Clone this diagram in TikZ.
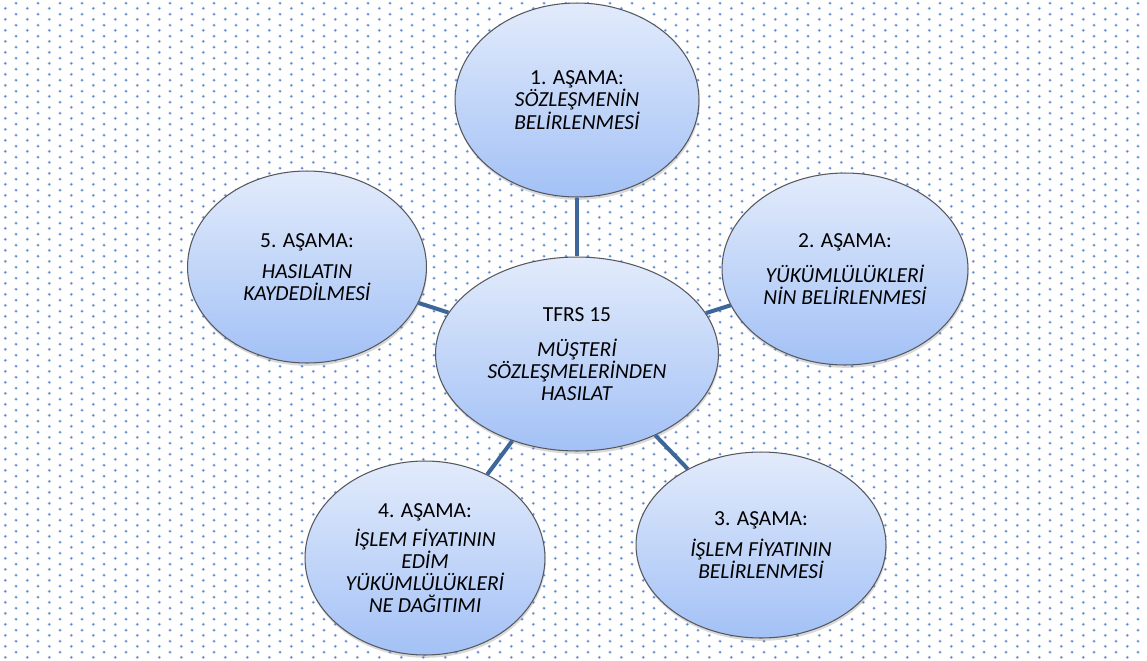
\documentclass[tikz,border=0pt]{standalone}
\usepackage{fontspec}
\setmainfont{Carlito}
\usetikzlibrary{shapes.geometric,shadows,patterns}
\definecolor{dotc}{RGB}{88,132,204}
\definecolor{dothalo}{RGB}{200,216,242}
\definecolor{ellTop}{RGB}{226,235,251}
\definecolor{ellBot}{RGB}{163,193,246}
\definecolor{ellLine}{RGB}{85,88,95}
\definecolor{conn}{RGB}{61,103,152}
\pgfdeclarepatterninherentlycolored{bgdots}
  {\pgfpointorigin}{\pgfpoint{0.434cm}{0.214cm}}
  {\pgfpoint{0.434cm}{0.214cm}}
  {%
    \pgfsetfillcolor{dothalo}%
    \pgfpathcircle{\pgfpoint{0.108cm}{0.054cm}}{0.038cm}%
    \pgfpathcircle{\pgfpoint{0.325cm}{0.161cm}}{0.038cm}%
    \pgfusepath{fill}%
    \pgfsetfillcolor{dotc}%
    \pgfpathcircle{\pgfpoint{0.108cm}{0.054cm}}{0.022cm}%
    \pgfpathcircle{\pgfpoint{0.325cm}{0.161cm}}{0.022cm}%
    \pgfusepath{fill}%
  }
\tikzset{
  stage/.style={ellipse, draw=ellLine, line width=0.6pt, top color=ellTop, bottom color=ellBot,
    inner sep=0pt, align=center, font=\fontsize{12.2}{12.6}\selectfont,
    drop shadow={opacity=0.3, shadow xshift=0.4pt, shadow yshift=-1.6pt}},
  link/.style={draw=conn, line width=2.3pt}
}
\begin{document}
\begin{tikzpicture}[x=0.02cm, y=-0.02cm]
\useasboundingbox (0,0) rectangle (1147,660);
\fill[white] (0,0) rectangle (1147,660);
\fill[pattern=bgdots] (0,0) rectangle (1147,660);
\node[stage, minimum width=5.66cm, minimum height=3.88cm] (c) at (577,354)
  {TFRS 15\\[0.26cm] \textit{MÜŞTERİ}\\ \textit{SÖZLEŞMELERİNDEN}\\ \textit{HASILAT}};
\node[stage, minimum width=4.88cm, minimum height=3.88cm] (s1) at (577,100)
  {1. AŞAMA:\\ \textit{SÖZLEŞMENİN}\\ \textit{BELİRLENMESİ}};
\node[stage, minimum width=4.92cm, minimum height=3.84cm] (s2) at (845,269)
  {2. AŞAMA:\\[0.26cm] \textit{YÜKÜMLÜLÜKLERİ}\\ \textit{NİN BELİRLENMESİ}};
\node[stage, minimum width=5.0cm, minimum height=3.72cm] (s3) at (761,545)
  {3. AŞAMA:\\[0.18cm] \textit{İŞLEM FİYATININ}\\ \textit{BELİRLENMESİ}};
\node[stage, minimum width=4.8cm, minimum height=3.88cm] (s4) at (425,558)
  {4. AŞAMA:\\[0.14cm] \textit{İŞLEM FİYATININ}\\ \textit{EDİM}\\ \textit{YÜKÜMLÜLÜKLERİ}\\ \textit{NE DAĞITIMI}};
\node[stage, minimum width=4.78cm, minimum height=3.84cm] (s5) at (307,267)
  {5. AŞAMA:\\[0.18cm] \textit{HASILATIN}\\ \textit{KAYDEDİLMESİ}};
\draw[link] (c) -- (s1);
\draw[link] (c) -- (s2);
\draw[link] (c) -- (s3);
\draw[link] (c) -- (s4);
\draw[link] (c) -- (s5);
\end{tikzpicture}
\end{document}
